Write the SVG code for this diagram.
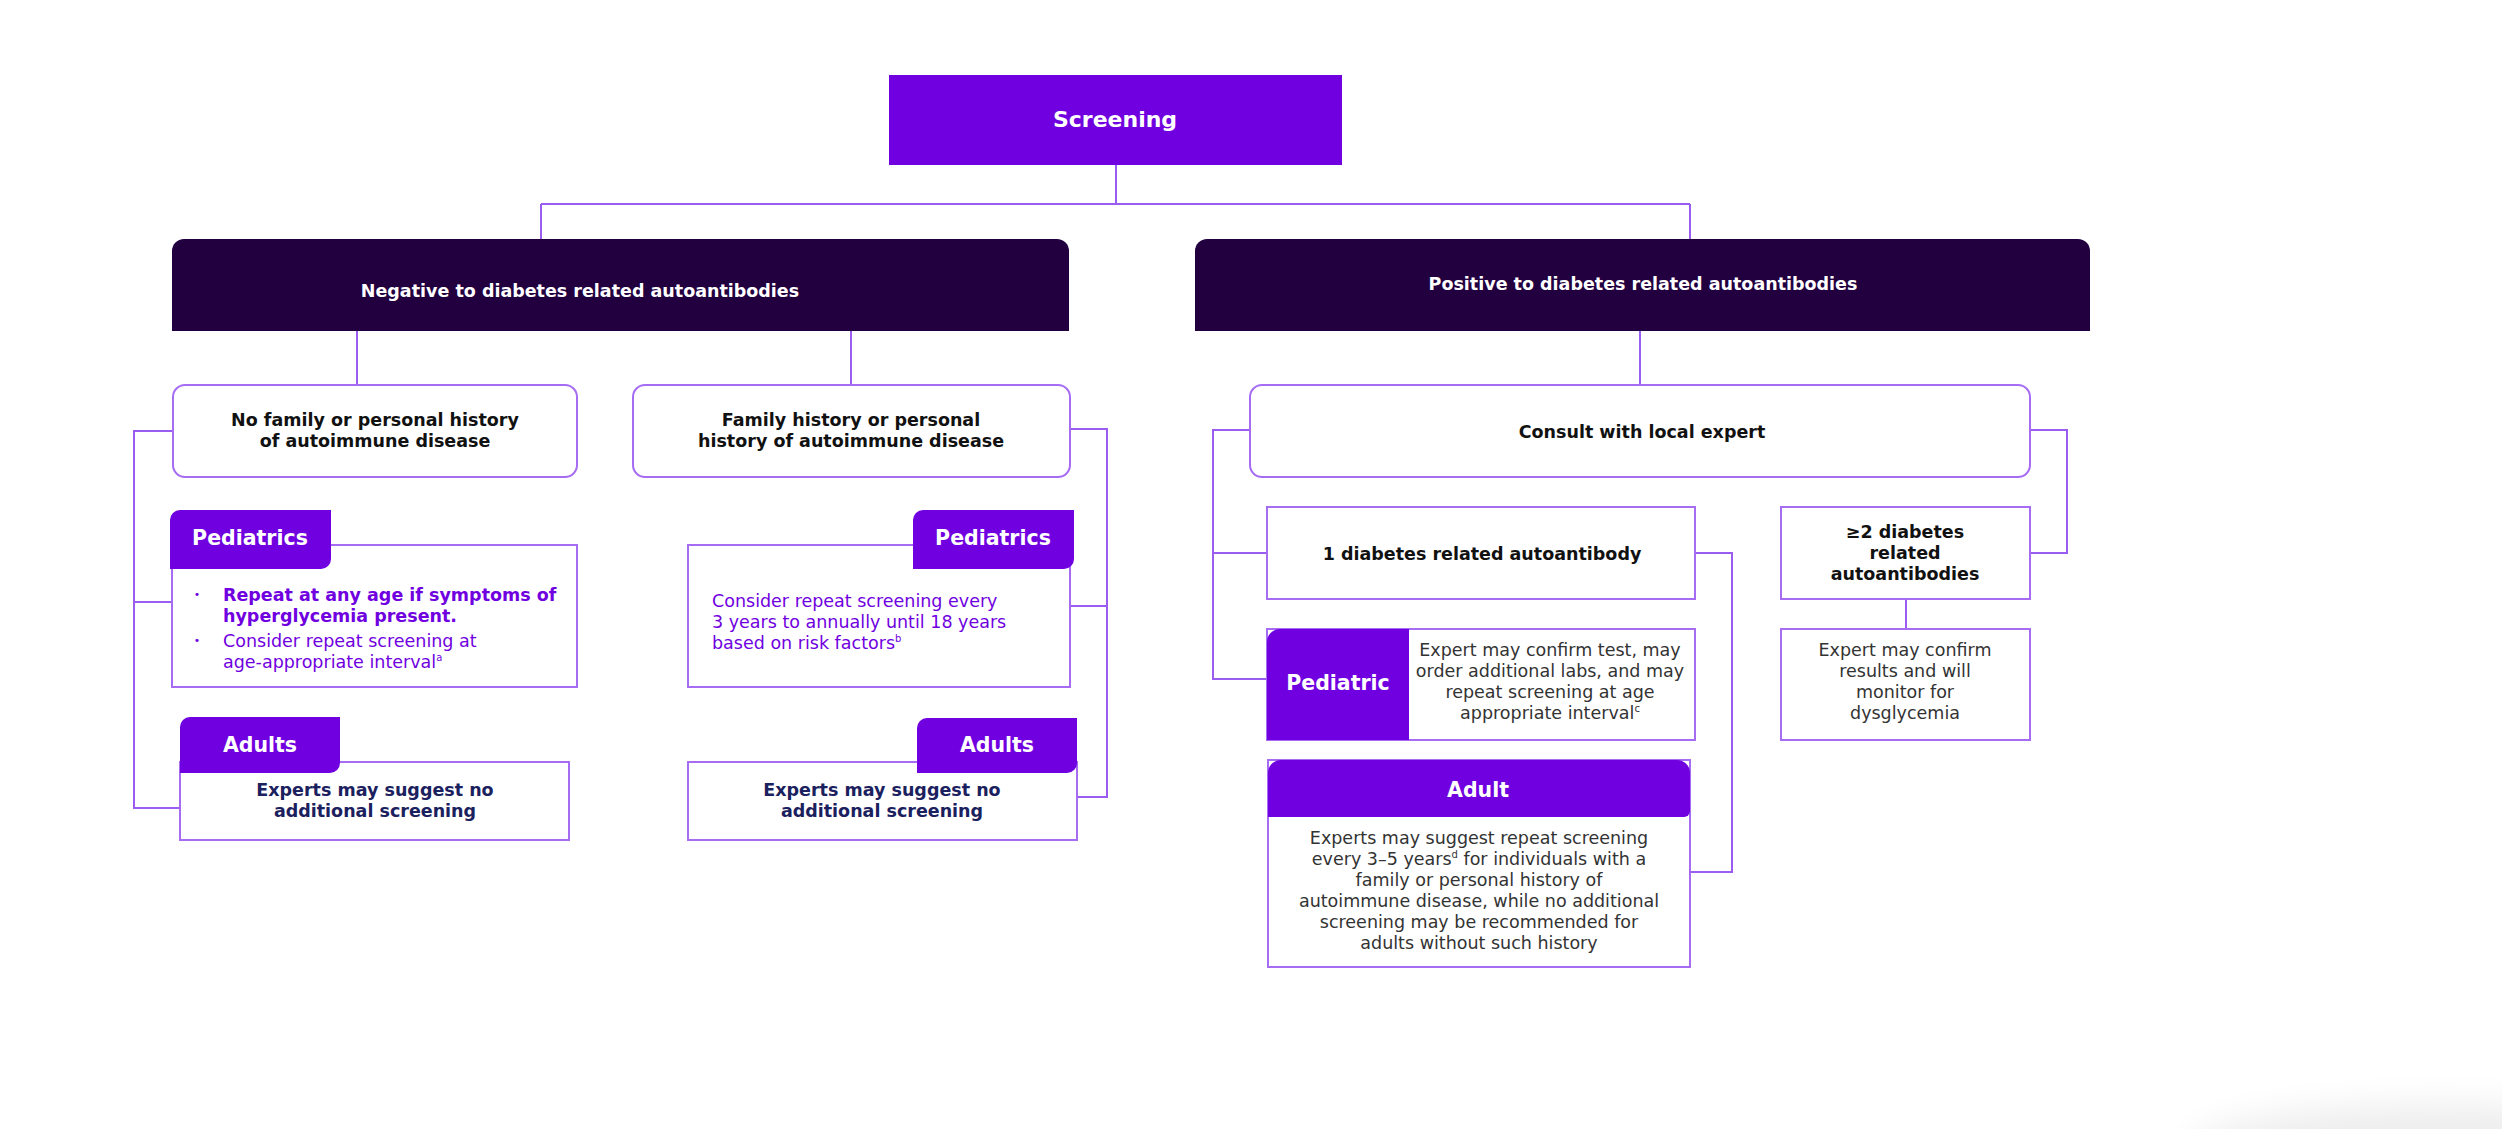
<svg xmlns="http://www.w3.org/2000/svg" width="2502" height="1129" viewBox="0 0 2502 1129">
<defs>
<style>
text{font-family:"DejaVu Sans",Verdana,"Liberation Sans",sans-serif;font-size:17.5px}
.b{font-weight:bold}
.c{text-anchor:middle}
.w{fill:#ffffff}
.k{fill:#111111}
.g{fill:#333333}
.p{fill:#7000DF}
.n{fill:#1B215E}
.tab{fill:#7000DF}
.hdr{fill:#22003F}
.box{fill:#ffffff;stroke:#A66CF3;stroke-width:2}
.tt{font-size:20.5px;font-weight:bold;fill:#ffffff;text-anchor:middle}
.sup{font-size:10px}
#connectors path{fill:none;stroke:#9B5CF2;stroke-width:2}
</style>
<filter id="blur" x="-50%" y="-50%" width="200%" height="200%"><feGaussianBlur stdDeviation="18"/></filter>
</defs>
<rect width="2502" height="1129" fill="#ffffff"/>
<ellipse cx="2440" cy="1150" rx="250" ry="45" fill="#000000" opacity="0.07" filter="url(#blur)"/>

<g id="connectors">
<path d="M1116 165 V204 M541 204 H1690 M541 204 V239 M1690 204 V239"/>
<path d="M357 331 V385 M851 331 V385"/>
<path d="M173 431 H134 V808 H180 M134 602 H172"/>
<path d="M1070 429 H1107 V797 H1077 M1070 606 H1107"/>
<path d="M1640 331 V385"/>
<path d="M1250 430 H1213 V679 H1267 M1213 553 H1267"/>
<path d="M2030 430 H2067 V553 H2030"/>
<path d="M1695 553 H1732 V872 H1690"/>
<path d="M1906 599 V629"/>
</g>

<g id="screening">
<rect x="889" y="75" width="453" height="90" fill="#7000DF"/>
<text x="1115" y="127" class="b c w" style="font-size:22px">Screening</text>
</g>

<g id="negative">
<path class="hdr" d="M172,331 V251 A12,12 0 0 1 184,239 H1057 A12,12 0 0 1 1069,251 V331 Z"/>
<text x="580" y="297" class="b c w">Negative to diabetes related autoantibodies</text>
</g>

<g id="positive">
<path class="hdr" d="M1195,331 V251 A12,12 0 0 1 1207,239 H2078 A12,12 0 0 1 2090,251 V331 Z"/>
<text x="1643" y="290" class="b c w">Positive to diabetes related autoantibodies</text>
</g>

<g id="no-history">
<rect class="box" x="173" y="385" width="404" height="92" rx="12"/>
<text class="b c k"><tspan x="375" y="426">No family or personal history</tspan><tspan x="375" y="447">of autoimmune disease</tspan></text>
</g>

<g id="family-history">
<rect class="box" x="633" y="385" width="437" height="92" rx="12"/>
<text class="b c k"><tspan x="851" y="426">Family history or personal</tspan><tspan x="851" y="447">history of autoimmune disease</tspan></text>
</g>

<g id="neg-pediatrics-left">
<rect class="box" x="172" y="545" width="405" height="142"/>
<path class="tab" d="M170,569 V520 A10,10 0 0 1 180,510 H331 V559 A10,10 0 0 1 321,569 Z"/>
<text x="250" y="545" class="tt">Pediatrics</text>
<text x="197" y="598" class="p" style="font-size:11px" text-anchor="middle">•</text>
<text class="b p"><tspan x="223" y="601">Repeat at any age if symptoms of</tspan><tspan x="223" y="622">hyperglycemia present.</tspan></text>
<text x="197" y="644" class="p" style="font-size:11px" text-anchor="middle">•</text>
<text class="p"><tspan x="223" y="647">Consider repeat screening at</tspan><tspan x="223" y="668">age-appropriate interval</tspan><tspan class="sup" dy="-7">a</tspan></text>
</g>

<g id="neg-adults-left">
<rect class="box" x="180" y="762" width="389" height="78"/>
<path class="tab" d="M180,773 V727 A10,10 0 0 1 190,717 H340 V763 A10,10 0 0 1 330,773 Z"/>
<text x="260" y="752" class="tt">Adults</text>
<text class="b c n"><tspan x="375" y="796">Experts may suggest no</tspan><tspan x="375" y="817">additional screening</tspan></text>
</g>

<g id="neg-pediatrics-right">
<rect class="box" x="688" y="545" width="382" height="142"/>
<path class="tab" d="M913,569 V520 A10,10 0 0 1 923,510 H1074 V559 A10,10 0 0 1 1064,569 Z"/>
<text x="993" y="545" class="tt">Pediatrics</text>
<text class="p"><tspan x="712" y="607">Consider repeat screening every</tspan><tspan x="712" y="628">3 years to annually until 18 years</tspan><tspan x="712" y="649">based on risk factors</tspan><tspan class="sup" dy="-7">b</tspan></text>
</g>

<g id="neg-adults-right">
<rect class="box" x="688" y="762" width="389" height="78"/>
<path class="tab" d="M917,773 V728 A10,10 0 0 1 927,718 H1077 V763 A10,10 0 0 1 1067,773 Z"/>
<text x="997" y="752" class="tt">Adults</text>
<text class="b c n"><tspan x="882" y="796">Experts may suggest no</tspan><tspan x="882" y="817">additional screening</tspan></text>
</g>

<g id="consult">
<rect class="box" x="1250" y="385" width="780" height="92" rx="12"/>
<text x="1642" y="438" class="b c k">Consult with local expert</text>
</g>

<g id="one-autoantibody">
<rect class="box" x="1267" y="507" width="428" height="92"/>
<text x="1482" y="560" class="b c k">1 diabetes related autoantibody</text>
</g>

<g id="two-autoantibodies">
<rect class="box" x="1781" y="507" width="249" height="92"/>
<text class="b c k"><tspan x="1905" y="538">≥2 diabetes</tspan><tspan x="1905" y="559">related</tspan><tspan x="1905" y="580">autoantibodies</tspan></text>
</g>

<g id="confirm-monitor">
<rect class="box" x="1781" y="629" width="249" height="111"/>
<text class="c g"><tspan x="1905" y="656">Expert may confirm</tspan><tspan x="1905" y="677">results and will</tspan><tspan x="1905" y="698">monitor for</tspan><tspan x="1905" y="719">dysglycemia</tspan></text>
</g>

<g id="pos-pediatric">
<rect class="box" x="1267" y="629" width="428" height="111"/>
<path class="tab" d="M1267,740 V642 A13,13 0 0 1 1280,629 H1409 V740 Z"/>
<text x="1338" y="690" class="tt">Pediatric</text>
<text class="c g"><tspan x="1550" y="656">Expert may confirm test, may</tspan><tspan x="1550" y="677">order additional labs, and may</tspan><tspan x="1550" y="698">repeat screening at age</tspan><tspan x="1550" y="719">appropriate interval</tspan><tspan class="sup" dy="-7">c</tspan></text>
</g>

<g id="pos-adult">
<rect class="box" x="1268" y="760" width="422" height="207"/>
<path class="tab" d="M1268,817 V773 A13,13 0 0 1 1281,760 H1677 A13,13 0 0 1 1690,773 V811 A6,6 0 0 1 1684,817 Z"/>
<text x="1478" y="797" class="tt">Adult</text>
<text class="c g"><tspan x="1479" y="844">Experts may suggest repeat screening</tspan><tspan x="1479" y="865">every 3–5 years<tspan class="sup" dy="-7">d</tspan><tspan dy="7"> for individuals with a</tspan></tspan><tspan x="1479" y="886">family or personal history of</tspan><tspan x="1479" y="907">autoimmune disease, while no additional</tspan><tspan x="1479" y="928">screening may be recommended for</tspan><tspan x="1479" y="949">adults without such history</tspan></text>
</g>
</svg>
